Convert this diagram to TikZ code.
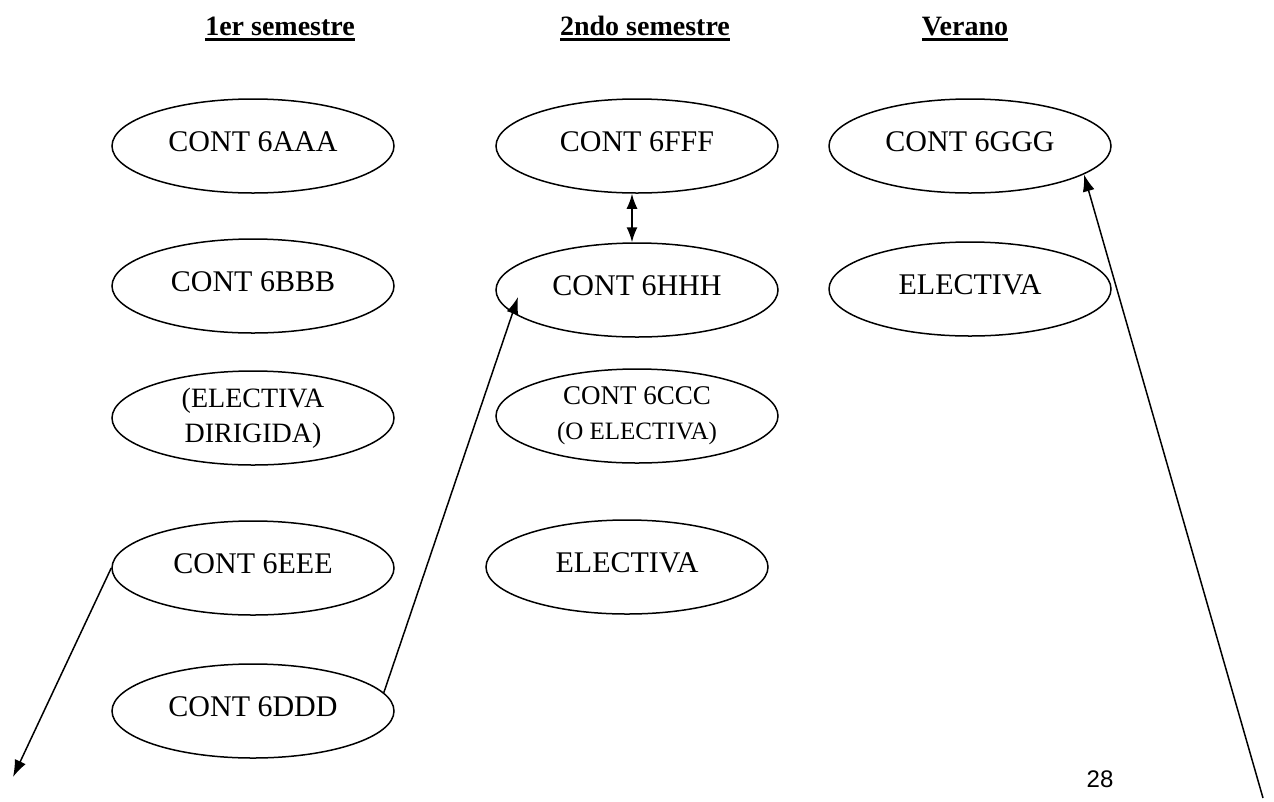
\documentclass[tikz,border=0pt]{standalone}
\usepackage{fontspec}
\setmainfont{Liberation Serif}
\newfontfamily\numfont{Liberation Sans}
\usetikzlibrary{shapes.geometric,arrows.meta}
\newcommand\ulhead[1]{\setbox0\hbox{#1}\rlap{\rule[-6pt]{\wd0}{2.6pt}}\box0}
\begin{document}
\begin{tikzpicture}[x=1pt,y=-1pt,
  course/.style={ellipse,draw,line width=1.5pt,minimum width=282pt,minimum height=94pt,inner sep=0pt,align=center,font=\fontsize{30}{35}\selectfont},
  oneline/.style={course,text depth=8pt},
  twoline/.style={course,font=\fontsize{27}{35}\selectfont},
  head/.style={anchor=base,font=\fontsize{28}{32}\selectfont\bfseries},
  conn/.style={line width=1.5pt,-{Latex[length=17pt,width=12pt]}},
  dconn/.style={line width=1.5pt,{Latex[length=15pt,width=11pt]}-{Latex[length=15pt,width=11pt]}}]
\useasboundingbox (0,0) rectangle (1274,801);
% headers
\node[head] (h1) at (280,35) {\ulhead{1er semestre}};
\node[head] (h2) at (645,35) {\ulhead{2ndo semestre}};
\node[head] (h3) at (965,35) {\ulhead{Verano}};
% column 1
\node[oneline] (aaa) at (253,146) {CONT 6AAA};
\node[oneline] (bbb) at (253,286) {CONT 6BBB};
\node[twoline,font=\fontsize{28}{35}\selectfont] (dir) at (253,418) {(ELECTIVA\\DIRIGIDA)};
\node[oneline] (eee) at (253,568) {CONT 6EEE};
\node[oneline] (ddd) at (253,711) {CONT 6DDD};
% column 2
\node[oneline] (fff) at (637,146) {CONT 6FFF};
\node[oneline] (hhh) at (637,290) {CONT 6HHH};
\node[twoline] (ccc) at (637,416) {CONT 6CCC\\{\fontsize{25}{35}\selectfont(O ELECTIVA)}};
\node[oneline] (el2) at (627,567) {ELECTIVA};
% column 3
\node[oneline] (ggg) at (970,146) {CONT 6GGG};
\node[oneline] (el3) at (970,289) {ELECTIVA};
% page number
\node[font=\numfont\fontsize{24}{28}\selectfont] (pg) at (1100,779) {28};
% free ends
\coordinate (c1) at (13,777);
\coordinate (c3) at (1263,798);
\coordinate (hin) at ([shift={(-119,7)}]hhh.center);
% connectors
\draw[conn] (eee.west) -- (c1);
\draw[conn] (ddd.8) -- (hin);
\draw[conn] (c3) -- (ggg.-14);
\draw[dconn] ([xshift=-5pt]fff.south) -- ([xshift=-5pt]hhh.north);
\end{tikzpicture}
\end{document}
